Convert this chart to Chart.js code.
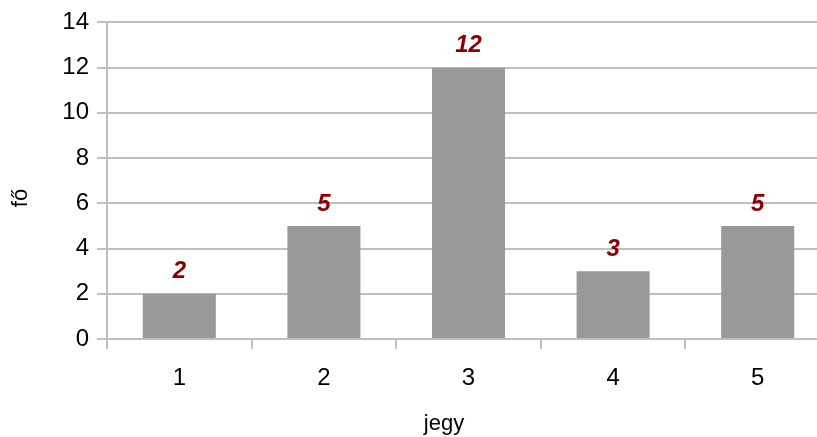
<!DOCTYPE html>
<html>
<head>
<meta charset="utf-8">
<script src="https://cdn.jsdelivr.net/npm/chart.js@4"></script>
<style>
  html, body { margin: 0; padding: 0; background: #fff; overflow: hidden; }
  #wrap { width: 817px; height: 437px; overflow: hidden; }
  canvas { display: block; }
</style>
</head>
<body>
<div id="wrap"><canvas id="chart" width="830" height="437"></canvas></div>
<script>
// Grade distribution: number of people per grade
const grades = ['1', '2', '3', '4', '5'];
const counts = [2, 5, 12, 3, 5];
const yTickValues = [0, 2, 4, 6, 8, 10, 12, 14];
const xTitle = 'jegy';
const yTitle = 'fő';

const FONT = '"Liberation Sans", Arial, sans-serif';
const GRID = '#bfbfbf';

// Value labels above each bar, plus the two axis titles
const labelsPlugin = {
  id: 'barLabels',
  afterDatasetsDraw(chart) {
    const ctx = chart.ctx;
    const meta = chart.getDatasetMeta(0);
    ctx.save();
    ctx.font = 'italic bold 24px ' + FONT;
    ctx.fillStyle = '#8b0000';
    ctx.textAlign = 'center';
    ctx.textBaseline = 'middle';
    meta.data.forEach((bar, i) => {
      ctx.fillText(String(counts[i]), bar.x, bar.y - 22);
    });
    ctx.restore();

    ctx.save();
    ctx.font = '22px ' + FONT;
    ctx.fillStyle = '#000';
    ctx.textAlign = 'center';
    ctx.textBaseline = 'middle';
    ctx.fillText(xTitle, 444, 424);
    ctx.translate(21, 198);
    ctx.rotate(-Math.PI / 2);
    ctx.fillText(yTitle, 0, 0);
    ctx.restore();
  }
};

new Chart(document.getElementById('chart'), {
  type: 'bar',
  data: {
    labels: grades,
    datasets: [{
      data: counts,
      backgroundColor: '#999999',
      borderWidth: 0,
      categoryPercentage: 1.0,
      barPercentage: 0.505
    }]
  },
  options: {
    responsive: false,
    animation: false,
    layout: { padding: { top: 22, left: 0, right: 0, bottom: 0 } },
    plugins: { legend: { display: false }, tooltip: { enabled: false } },
    scales: {
      x: {
        afterFit(scale) { scale.height = 98; },
        grid: {
          display: true,
          drawOnChartArea: false,
          drawTicks: true,
          tickLength: 10,
          color: GRID,
          lineWidth: 2,
          offset: true
        },
        border: { display: true, color: GRID, width: 2 },
        ticks: { color: '#000', font: { family: FONT, size: 24 }, padding: 15 }
      },
      y: {
        min: 0,
        max: 14,
        afterFit(scale) { scale.width = 107; },
        afterBuildTicks(scale) { scale.ticks = yTickValues.map(v => ({ value: v })); },
        grid: {
          color: GRID,
          lineWidth: 2,
          drawTicks: true,
          tickLength: 10
        },
        border: { display: true, color: GRID, width: 2 },
        ticks: { color: '#000', font: { family: FONT, size: 24 }, padding: 8 }
      }
    }
  },
  plugins: [labelsPlugin]
});
</script>
</body>
</html>
